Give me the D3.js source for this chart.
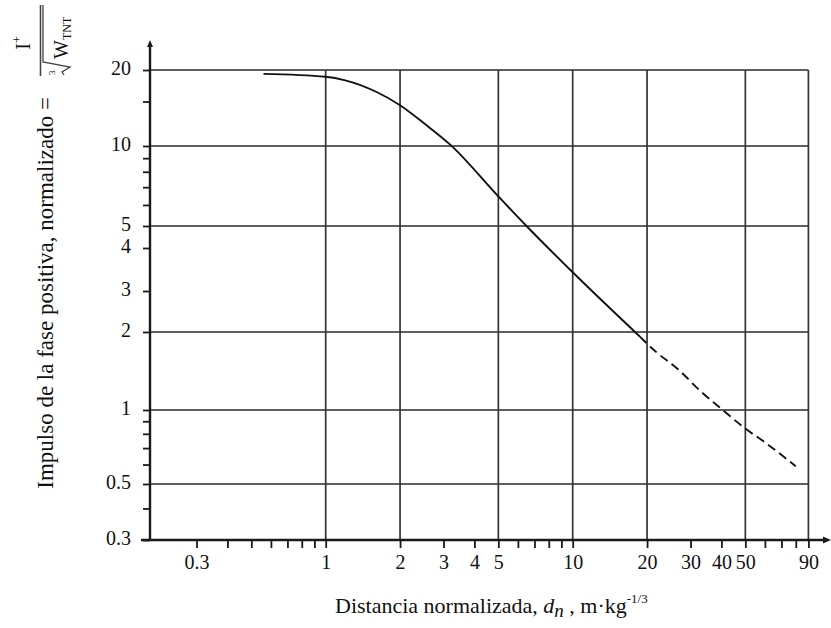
<!DOCTYPE html>
<html>
<head>
<meta charset="utf-8">
<script src="https://cdn.jsdelivr.net/npm/d3@7/dist/d3.min.js"></script>
<style>
  html, body { margin: 0; padding: 0; background: #fff; }
  svg { display: block; }
  text { font-family: "Liberation Serif", "Times New Roman", serif; fill: #111; }
</style>
</head>
<body>
<svg id="chart" width="831" height="628"></svg>
<script>
// ---- data ----
const xTickLabels = [0.3, 1, 2, 3, 4, 5, 10, 20, 30, 40, 50, 90];
const xMinorTicks = [0.4, 0.5, 0.6, 0.7, 0.8, 0.9, 6, 7, 8, 9, 60, 70, 80];
const xGridValues = [1, 2, 5, 10, 20, 50, 90];
const yTickLabels = [20, 10, 5, 4, 3, 2, 1, 0.5, 0.3];
const yMinorTicks = [15, 9, 8, 7, 6, 0.9, 0.8, 0.7, 0.6, 0.4];
const yGridValues = [20, 10, 5, 2, 1, 0.5];
// solid part of the curve
const solidX = [0.56, 1.0, 1.2, 1.6, 2.0, 2.5, 3.2, 5.0, 6.5, 10, 18.7];
const solidY = [19.3, 18.8, 18.2, 16.4, 14.5, 12.3, 10.1, 6.46, 5.0, 3.4, 1.92];
// dashed (extrapolated) part
const dashX = [18.7, 22, 26.4, 33, 40.5, 50, 61, 80];
const dashY = [1.92, 1.66, 1.45, 1.18, 1.0, 0.84, 0.73, 0.59];

// ---- scales ----
const svg = d3.select("#chart");
const x = d3.scaleLog().domain([1, 90]).range([325.7, 808.4]);
// reference axis is slightly irregular: piecewise log scale through its labelled values
const y = d3.scaleLog()
  .domain([0.3, 0.5, 1, 2, 3, 4, 5, 10, 20])
  .range([540, 484, 410, 332, 291, 248, 226, 146, 70]);

const axisX0 = 150, axisY0 = 540;
const gridRight = x(90), gridTop = y(20);
const ink = "#1a1a1a";

// ---- grid ----
const grid = svg.append("g");
grid.selectAll("line.h").data(yGridValues).join("line")
  .attr("x1", axisX0).attr("x2", gridRight)
  .attr("y1", d => y(d)).attr("y2", d => y(d))
  .attr("stroke", "#2a2a2a").attr("stroke-width", 1.7);
grid.selectAll("line.v").data(xGridValues).join("line")
  .attr("x1", d => x(d)).attr("x2", d => x(d))
  .attr("y1", gridTop).attr("y2", axisY0)
  .attr("stroke", "#333").attr("stroke-width", 1.7);

// ---- axes ----
const fmt = d => String(d);
const xAxis = d3.axisBottom(x)
  .tickValues(xTickLabels.concat(xMinorTicks))
  .tickFormat(d => xTickLabels.includes(d) ? fmt(d) : "")
  .tickSize(8).tickSizeOuter(0).tickPadding(7);
const gx = svg.append("g").attr("transform", `translate(0,${axisY0})`).call(xAxis);
gx.select(".domain").remove();
gx.selectAll(".tick line").attr("stroke", ink).attr("stroke-width", 1.8);
gx.selectAll(".tick text").attr("font-size", 20).attr("fill", "#111")
  .style("font-family", "'Liberation Serif', serif");

const yAxis = d3.axisLeft(y)
  .tickValues(yTickLabels.concat(yMinorTicks))
  .tickFormat(d => yTickLabels.includes(d) ? fmt(d) : "")
  .tickSize(7).tickSizeOuter(0).tickPadding(12);
const gy = svg.append("g").attr("transform", `translate(${axisX0},0)`).call(yAxis);
gy.select(".domain").remove();
gy.selectAll(".tick line").attr("stroke", ink).attr("stroke-width", 1.8);
gy.selectAll(".tick text").attr("font-size", 20).attr("dy", "0.2em").attr("fill", "#111")
  .style("font-family", "'Liberation Serif', serif");

// axis lines with arrows
svg.append("line").attr("x1", 141).attr("x2", 826).attr("y1", axisY0).attr("y2", axisY0)
  .attr("stroke", ink).attr("stroke-width", 2.4);
svg.append("path").attr("d", `M831,${axisY0} L823,${axisY0 - 3.5} L823,${axisY0 + 3.5} Z`).attr("fill", ink);
svg.append("line").attr("x1", axisX0).attr("x2", axisX0).attr("y1", axisY0 + 1).attr("y2", 45)
  .attr("stroke", ink).attr("stroke-width", 2.4);
svg.append("path").attr("d", `M${axisX0},40 L${axisX0 - 3},47 L${axisX0 + 3},47 Z`).attr("fill", ink);

// ---- curve ----
const line = d3.line().x(d => x(d[0])).y(d => y(d[1])).curve(d3.curveMonotoneX);
svg.append("path").datum(d3.zip(solidX, solidY)).attr("d", line)
  .attr("fill", "none").attr("stroke", "#111").attr("stroke-width", 1.9);
svg.append("path").datum(d3.zip(dashX, dashY)).attr("d", line)
  .attr("fill", "none").attr("stroke", "#111").attr("stroke-width", 1.9)
  .attr("stroke-dasharray", "9,5");

// ---- x title ----
const xt = svg.append("text").attr("x", 335).attr("y", 613).attr("font-size", 22);
xt.append("tspan").text("Distancia normalizada, ");
xt.append("tspan").attr("font-style", "italic").text("d");
xt.append("tspan").attr("font-style", "italic").attr("font-size", 19).attr("dy", 4).text("n");
xt.append("tspan").attr("dy", -4).text(" , m\u00B7kg");
xt.append("tspan").attr("font-size", 13).attr("dy", -10).text("-1/3");

// ---- y title (rotated) ----
const yt = svg.append("g").attr("transform", "translate(53,0) rotate(-90)");
yt.append("text").attr("x", -97).attr("y", 0).attr("text-anchor", "end").attr("font-size", 23)
  .text("Impulso de la fase positiva, normalizado =");
const num = yt.append("text").attr("x", -43).attr("y", -23).attr("text-anchor", "middle").attr("font-size", 20);
num.append("tspan").text("I");
num.append("tspan").attr("font-size", 12).attr("dy", -9).text("+");
// fraction bar
yt.append("line").attr("x1", -76).attr("x2", -5).attr("y1", -12.5).attr("y2", -12.5)
  .attr("stroke", "#444").attr("stroke-width", 1.6);
// radical sign
yt.append("path").attr("d", "M-75,11 L-72,9 L-67,17 L-62,-10 L-5,-10")
  .attr("fill", "none").attr("stroke", "#444").attr("stroke-width", 1.3);
yt.append("text").attr("x", -75).attr("y", 2).attr("font-size", 9).text("3");
const den = yt.append("text").attr("x", -59).attr("y", 15).attr("font-size", 20);
den.append("tspan").text("W");
den.append("tspan").attr("font-size", 12).attr("dy", 3).text("TNT");
</script>
</body>
</html>
